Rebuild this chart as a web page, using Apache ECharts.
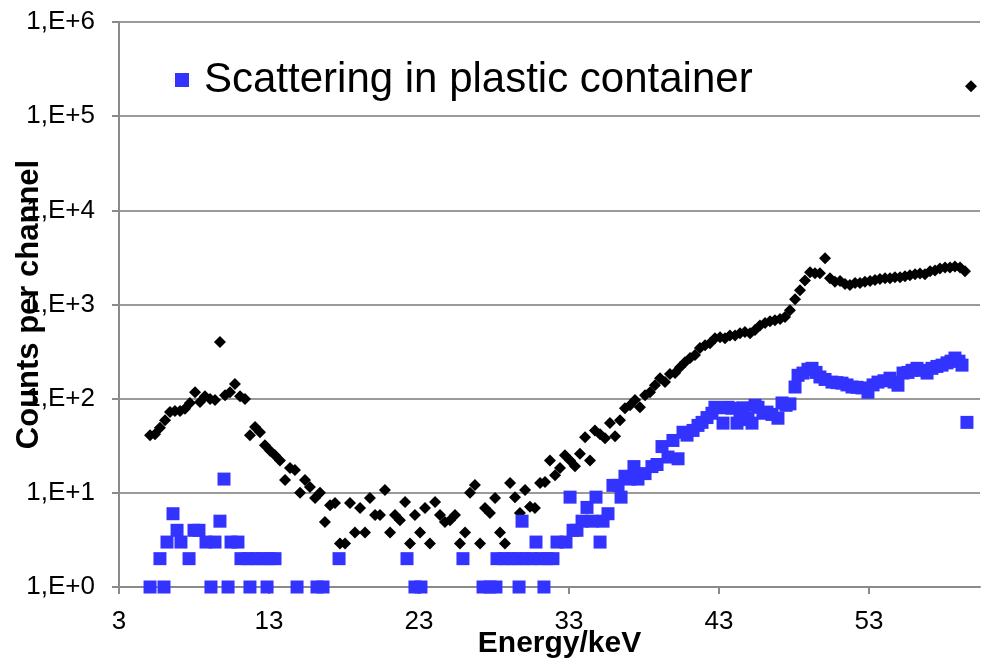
<!DOCTYPE html>
<html>
<head>
<meta charset="utf-8">
<title>Counts per channel vs energy</title>
<script src="https://cdn.jsdelivr.net/npm/echarts@6/dist/echarts.min.js"></script>
<style>
  html, body { margin: 0; padding: 0; background: #fff; }
  #chart { width: 985px; height: 661px; }
</style>
</head>
<body>
<div id="chart"></div>
<script>
// Full spectrum: channel energies (keV) and counts per channel
const totalEnergy = [
  5.07, 5.40, 5.73, 6.07, 6.40, 6.73, 7.07, 7.40, 7.73, 8.07, 8.40, 8.73,
  9.07, 9.40, 9.73, 10.07, 10.40, 10.73, 11.07, 11.40, 11.73, 12.07, 12.40, 12.73,
  13.07, 13.40, 13.73, 14.07, 14.40, 14.73, 15.07, 15.40, 15.73, 16.07, 16.40, 16.73,
  17.07, 17.40, 17.73, 18.07, 18.40, 18.73, 19.07, 19.40, 19.73, 20.07, 20.40, 20.73,
  21.07, 21.40, 21.73, 22.07, 22.40, 22.73, 23.07, 23.40, 23.73, 24.07, 24.40, 24.73,
  25.07, 25.40, 25.73, 26.07, 26.40, 26.73, 27.07, 27.40, 27.73, 28.07, 28.40, 28.73,
  29.07, 29.40, 29.73, 30.07, 30.40, 30.73, 31.07, 31.40, 31.73, 32.07, 32.40, 32.73,
  33.07, 33.40, 33.73, 34.07, 34.40, 34.73, 35.07, 35.40, 35.73, 36.07, 36.40, 36.73,
  37.07, 37.40, 37.73, 38.07, 38.40, 38.73, 39.07, 39.40, 39.73, 40.07, 40.40, 40.73,
  41.07, 41.40, 41.73, 42.07, 42.40, 42.73, 43.07, 43.40, 43.73, 44.07, 44.40, 44.73,
  45.07, 45.40, 45.73, 46.07, 46.40, 46.73, 47.07, 47.40, 47.73, 48.07, 48.40, 48.73,
  49.07, 49.40, 49.73, 50.07, 50.40, 50.73, 51.07, 51.40, 51.73, 52.07, 52.40, 52.73,
  53.07, 53.40, 53.73, 54.07, 54.40, 54.73, 55.07, 55.40, 55.73, 56.07, 56.40, 56.73,
  57.07, 57.40, 57.73, 58.07, 58.40, 58.73, 59.07, 59.40, 59.80
];
const totalCounts = [
  41, 42, 49, 59, 72, 74, 74, 78, 90, 117, 92, 106,
  99, 97, 400, 109, 117, 143, 106, 99, 41, 50, 44, 32,
  28, 25, 22, 13.7, 18.4, 17.5, 10, 13.7, 11.5, 8.8, 10, 4.9,
  7.4, 7.8, 2.9, 2.9, 7.8, 3.8, 6.9, 3.8, 8.8, 5.8, 5.8, 10.7,
  3.8, 5.8, 5.1, 8, 2.9, 5.8, 3.8, 6.9, 2.9, 8, 5.8, 4.9,
  5.1, 5.8, 2.9, 3.8, 10, 12.1, 2.9, 6.9, 6.1, 8.8, 3.8, 2.9,
  12.7, 9, 6.1, 10.7, 7.1, 6.9, 12.7, 13, 22, 15.4, 18.4, 25,
  22, 19.2, 26, 39, 22, 46, 42, 38, 55, 40, 59, 79,
  85, 97, 81, 109, 117, 139, 165, 150, 183, 187, 216, 244,
  270, 290, 345, 370, 388, 438, 450, 438, 470, 470, 495, 510,
  495, 535, 600, 635, 665, 680, 700, 735, 870, 1140, 1420, 1800,
  2200, 2150, 2150, 3100, 1900, 1740, 1780, 1650, 1610, 1690, 1690, 1740,
  1780, 1820, 1860, 1900, 1900, 1950, 1950, 2000, 2040, 2090, 2140, 2090,
  2250, 2300, 2410, 2470, 2470, 2530, 2470, 2250, 208000
];

// Scattering in plastic container: energies (keV) and counts (zero-count channels omitted)
const plasticEnergy = [
  5.07, 5.73, 6.00, 6.20, 6.60, 6.87, 7.13, 7.67, 8.00, 8.33, 8.80, 9.13,
  9.40, 9.73, 10.00, 10.27, 10.47, 10.93, 11.13, 11.60, 11.73, 12.07, 12.53, 12.87,
  13.00, 13.40, 14.87, 16.20, 16.60, 17.67, 22.20, 22.73, 23.13, 25.93, 27.27, 27.73,
  28.13, 28.20, 28.67, 29.13, 29.60, 29.67, 29.87, 30.07, 30.53, 30.80, 31.07, 31.33,
  31.53, 31.93, 32.20, 32.80, 33.07, 33.27, 33.53, 33.87, 34.20, 34.53, 34.80, 35.07,
  35.27, 35.60, 35.93, 36.27, 36.47, 36.73, 37.07, 37.33, 37.60, 38.07, 38.53, 38.87,
  39.20, 39.60, 39.93, 40.27, 40.60, 40.87, 41.27, 41.60, 41.87, 42.20, 42.53, 42.73,
  43.07, 43.27, 43.60, 43.87, 44.20, 44.40, 44.60, 44.93, 45.20, 45.40, 45.60, 45.93,
  46.20, 46.53, 46.93, 47.20, 47.47, 47.73, 48.07, 48.27, 48.60, 48.93, 49.20, 49.47,
  49.73, 50.07, 50.53, 50.87, 51.20, 51.53, 51.87, 52.20, 52.53, 52.93, 53.27, 53.60,
  54.00, 54.40, 54.67, 54.93, 55.27, 55.60, 55.87, 56.20, 56.53, 56.87, 57.20, 57.53,
  57.87, 58.20, 58.47, 58.73, 59.00, 59.20, 59.53
];
const plasticCounts = [
  1, 2, 1, 3, 6, 4, 3, 2, 4, 4, 3, 1,
  3, 5, 14, 1, 3, 3, 2, 2, 1, 2, 2, 1,
  2, 2, 1, 1, 1, 2, 2, 1, 1, 2, 1, 1,
  1, 2, 2, 2, 2, 1, 5, 2, 2, 3, 2, 1,
  2, 2, 3, 3, 9, 4, 4, 5, 7, 5, 9, 3,
  5, 6, 12, 12, 9, 15, 14, 19, 14, 16, 19, 20,
  31, 24, 36, 23, 44, 41, 46, 52, 56, 63, 70, 81,
  80, 55, 81, 79, 55, 60, 80, 62, 55, 85, 81, 70,
  72, 68, 62, 90, 85, 88, 133, 177, 187, 205, 210, 190,
  170, 160, 150, 148, 146, 140, 133, 132, 130, 117, 140, 150,
  155, 165, 150, 139, 187, 190, 200, 210, 200, 187, 210, 220,
  227, 240, 250, 270, 250, 227, 56
];

const legendLabel = 'Scattering in plastic container';
const xTitle = 'Energy/keV';
const yTitle = 'Counts per channel';

const pairs = (xs, ys) => xs.map((x, i) => [x, ys[i]]);

const FONT = '"Liberation Sans", Arial, sans-serif';
const GRID_GRAY = '#9a9a9a';
const AXIS_GRAY = '#8a8a8a';

const chart = echarts.init(document.getElementById('chart'), null, { renderer: 'canvas' });

chart.setOption({
  animation: false,
  backgroundColor: '#ffffff',
  textStyle: { fontFamily: FONT },
  grid: { left: 119, right: 5, top: 22, bottom: 74, containLabel: false, outerBoundsMode: 'none' },
  legend: {
    data: [legendLabel],
    left: 170,
    top: 54,
    icon: 'rect',
    itemWidth: 14,
    itemHeight: 14,
    textStyle: { fontSize: 42, color: '#000', fontFamily: FONT, padding: [0, 0, 0, 10] }
  },
  xAxis: {
    type: 'value',
    min: 3,
    max: 60.4,
    interval: 10,
    name: xTitle,
    nameLocation: 'middle',
    nameGap: 42,
    nameMoveOverlap: false,
    nameTextStyle: { fontSize: 30, fontWeight: 'bold', color: '#000', fontFamily: FONT, padding: [0, 0, 0, 20] },
    axisLine: { lineStyle: { color: AXIS_GRAY, width: 2 } },
    axisTick: { show: true, length: 7, lineStyle: { color: AXIS_GRAY, width: 2 } },
    axisLabel: { fontSize: 26, color: '#000', margin: 22, showMaxLabel: false, fontFamily: FONT },
    splitLine: { show: false }
  },
  yAxis: {
    type: 'log',
    logBase: 10,
    min: 1,
    max: 1e6,
    splitNumber: 6,
    name: yTitle,
    nameLocation: 'middle',
    nameRotate: 90,
    nameGap: 74,
    nameMoveOverlap: false,
    nameTextStyle: { fontSize: 31, fontWeight: 'bold', color: '#000', fontFamily: FONT },
    axisLine: { show: true, lineStyle: { color: AXIS_GRAY, width: 2 } },
    axisTick: { show: true, length: 7, lineStyle: { color: AXIS_GRAY, width: 2 } },
    axisLabel: {
      fontSize: 26,
      color: '#000',
      margin: 24,
      fontFamily: FONT,
      formatter: v => '1,E+' + Math.round(Math.log10(v))
    },
    splitLine: { show: true, lineStyle: { color: GRID_GRAY, width: 2 } }
  },
  series: [
    {
      name: 'Total counts',
      type: 'scatter',
      symbol: 'diamond',
      symbolSize: 12,
      itemStyle: { color: '#000000', opacity: 1 },
      data: pairs(totalEnergy, totalCounts)
    },
    {
      name: legendLabel,
      type: 'scatter',
      symbol: 'rect',
      symbolSize: 13,
      itemStyle: { color: '#3333ff', opacity: 1 },
      data: pairs(plasticEnergy, plasticCounts)
    }
  ]
});
</script>
</body>
</html>
